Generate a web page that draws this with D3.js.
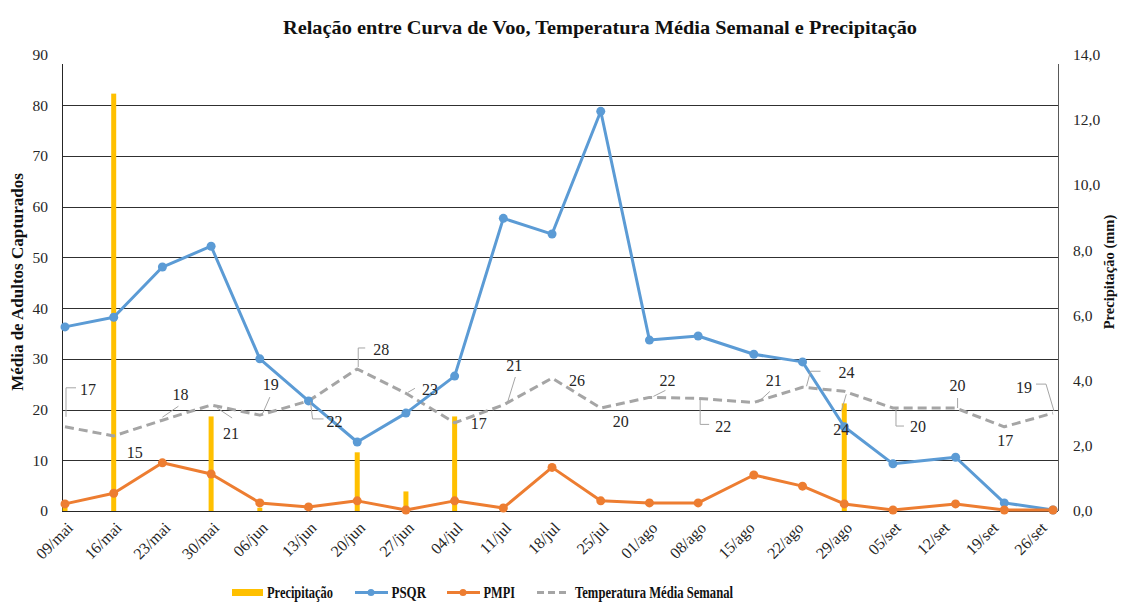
<!DOCTYPE html>
<html>
<head>
<meta charset="utf-8">
<script src="https://cdn.jsdelivr.net/npm/d3@7"></script>
<style>
  body { margin: 0; background: #fff; }
  text { font-family: "Liberation Serif", "Times New Roman", serif; }
</style>
</head>
<body>
<script>
// axis labels (weekly, date axis)
var weeks = ["09/mai","16/mai","23/mai","30/mai","06/jun","13/jun","20/jun","27/jun","04/jul","11/jul",
             "18/jul","25/jul","01/ago","08/ago","15/ago","22/ago","29/ago","05/set","12/set","19/set","26/set"];
// actual sampling dates (points sit on these)
var sampleDates = ["2019-05-09","2019-05-16","2019-05-23","2019-05-30","2019-06-06","2019-06-13","2019-06-20",
                   "2019-06-27","2019-07-04","2019-07-11","2019-07-18","2019-07-25","2019-08-01","2019-08-08",
                   "2019-08-16","2019-08-23","2019-08-29","2019-09-05","2019-09-14","2019-09-21","2019-09-28"];

// adults captured (left axis)
var psqr = [36.3, 38.2, 48.1, 52.2, 30.0, 21.7, 13.6, 19.3, 26.6, 57.7, 54.6, 78.8, 33.7, 34.5, 30.9, 29.4, 16.6, 9.3, 10.6, 1.6, 0.2];
var pmpi = [1.4, 3.5, 9.5, 7.3, 1.6, 0.8, 2.0, 0.2, 2.0, 0.6, 8.6, 2.0, 1.6, 1.6, 7.1, 4.9, 1.4, 0.2, 1.4, 0.2, 0.2];
// weekly mean temperature (left axis)
var temp = [16.6, 14.8, 17.9, 20.9, 18.9, 21.7, 28.0, 23.2, 17.4, 20.9, 26.2, 20.3, 22.4, 22.2, 21.4, 24.4, 23.6, 20.3, 20.3, 16.6, 19.3];
// precipitation (right axis, mm)
var precip = [0.2, 12.8, 0, 2.9, 0.1, 0, 1.8, 0.6, 2.9, 0, 0, 0, 0, 0, 0, 0, 3.3, 0, 0, 0, 0];

var leftTicks = [0, 10, 20, 30, 40, 50, 60, 70, 80, 90];
var rightTicks = [0, 2, 4, 6, 8, 10, 12, 14];

var W = 1127, H = 602;
var axLeft = 62, axRight = 1058, mTop = 54.5, mBottom = 511;

var parse = d3.timeParse("%Y-%m-%d");
var dates = sampleDates.map(parse);
var tickDates = weeks.map(function (d, i) { return d3.timeDay.offset(dates[0], 7 * i); });

var svg = d3.select("body").append("svg").attr("width", W).attr("height", H);

var x = d3.scaleTime().domain([dates[0], dates[dates.length - 1]]).range([65, 1053]);
var y = d3.scaleLinear().domain([0, 90]).range([mBottom, mTop]);
var y2 = d3.scaleLinear().domain([0, 14]).range([mBottom, mTop]);

// title
svg.append("text").attr("x", 600).attr("y", 34).attr("text-anchor", "middle")
  .attr("textLength", 634).attr("lengthAdjust", "spacingAndGlyphs")
  .style("font-size", "19px").style("font-weight", "bold").attr("fill", "#111")
  .text("Relação entre Curva de Voo, Temperatura Média Semanal e Precipitação");

// gridlines
svg.append("g").selectAll("line").data(leftTicks.filter(function (d) { return d > 0 && d < 90; }))
  .enter().append("line")
  .attr("x1", axLeft).attr("x2", axRight)
  .attr("y1", function (d) { return Math.round(y(d)) + 0.5; })
  .attr("y2", function (d) { return Math.round(y(d)) + 0.5; })
  .attr("stroke", "#303030").attr("stroke-width", 1);

// axes
var axL = svg.append("g").attr("transform", "translate(" + axLeft + ",0)")
  .call(d3.axisLeft(y).tickValues(leftTicks).tickSize(0).tickPadding(14).tickFormat(d3.format("d")));
var axR = svg.append("g").attr("transform", "translate(" + axRight + ",0)")
  .call(d3.axisRight(y2).tickValues(rightTicks).tickSize(0).tickPadding(15)
    .tickFormat(function (d) { return d.toFixed(1).replace(".", ","); }));
[axL, axR].forEach(function (a) {
  a.select(".domain").remove();
  a.selectAll("text").style("font-size", "15.5px").style("font-family", "Liberation Serif").attr("fill", "#262626");
});
svg.append("line").attr("x1", axLeft + 0.5).attr("x2", axLeft + 0.5).attr("y1", 64).attr("y2", mBottom).attr("stroke", "#262626");
svg.append("line").attr("x1", axRight + 0.5).attr("x2", axRight + 0.5).attr("y1", 64).attr("y2", mBottom).attr("stroke", "#595959");

// precipitation bars
svg.append("g").selectAll("rect").data(precip).enter().append("rect")
  .attr("x", function (d, i) { return x(dates[i]) - 2.5; })
  .attr("width", 5)
  .attr("y", function (d) { return y2(d); })
  .attr("height", function (d) { return mBottom - y2(d); })
  .attr("fill", "#FFC000");

// bottom axis line
svg.append("line").attr("x1", axLeft).attr("x2", axRight).attr("y1", mBottom + 0.5).attr("y2", mBottom + 0.5).attr("stroke", "#262626");

// x labels
svg.append("g").selectAll("text").data(weeks).enter().append("text")
  .attr("transform", function (d, i) { return "translate(" + (x(tickDates[i]) + 1) + "," + (mBottom + 10) + ") rotate(-45)"; })
  .attr("text-anchor", "end").attr("dy", "0.7em")
  .style("font-size", "16px").attr("fill", "#262626")
  .text(function (d) { return d; });

// lines
function drawLine(data, color, dashed, markers) {
  var line = d3.line().x(function (d, i) { return x(dates[i]); }).y(function (d) { return y(d); });
  svg.append("path").datum(data).attr("d", line).attr("fill", "none")
    .attr("stroke", color).attr("stroke-width", 3).attr("stroke-linejoin", "round")
    .attr("stroke-dasharray", dashed ? "9,5" : null);
  if (markers) {
    svg.append("g").selectAll("circle").data(data).enter().append("circle")
      .attr("cx", function (d, i) { return x(dates[i]); }).attr("cy", function (d) { return y(d); })
      .attr("r", 4.5).attr("fill", color);
  }
}
drawLine(temp, "#A5A5A5", true, false);
drawLine(psqr, "#5B9BD5", false, true);
drawLine(pmpi, "#ED7D31", false, true);

// temperature data labels: offset from point, and leader line points relative to point
var labelOff = [[23,-37],[21,16],[18,-26],[20,28],[11,-31],[26,20],[24,-20],[24,-4],[24,1],[11,-40],
                [25,2],[20,13],[18,-17],[25,28],[20,-22],[44,-15],[-3,38],[25,18],[2,-23],[1,14],[-29,-26]];
var leaders = [[[1,-10],[1,-39],[11,-39]], null, [[0,-3],[16,-14]], [[6,3],[21,13]], [[3,-2],[10,-18]],
               [[2,1],[4,18],[15,18]], [[1,-2],[1,-21],[8,-21]], [[2,-1],[9,-5]], null, [[4,-2],[12,-28]],
               null, null, [[4,-1],[16,-7]], [[2,0],[2,26],[11,26]], [[4,0],[16,-11]],
               [[4,-1],[8,-16],[18,-16]], [[2,3],[-3,20]], [[3,0],[3,18],[11,18]], [[2,0],[2,-10]], null,
               [[1,-2],[-7,-29],[-17,-29]]];
var lab = svg.append("g");
temp.forEach(function (d, i) {
  var px = x(dates[i]), py = y(d);
  var L = leaders[i];
  if (L) {
    lab.append("path").attr("d", d3.line()(L.map(function (p) { return [px + p[0], py + p[1]]; })))
      .attr("fill", "none").attr("stroke", "#A5A5A5").attr("stroke-width", 1);
  }
  lab.append("text").attr("x", px + labelOff[i][0]).attr("y", py + labelOff[i][1])
    .attr("text-anchor", "middle").attr("dy", "0.35em")
    .style("font-size", "16px").attr("fill", "#262626")
    .text(d3.format(".0f")(d));
});

// axis titles
svg.append("text").attr("transform", "translate(23,282) rotate(-90)").attr("text-anchor", "middle")
  .style("font-size", "17px").style("font-weight", "bold").attr("fill", "#111").text("Média de Adultos Capturados");
svg.append("text").attr("transform", "translate(1114,272) rotate(-90)").attr("text-anchor", "middle")
  .style("font-size", "14.5px").style("font-weight", "bold").attr("fill", "#111").text("Precipitação (mm)");

// legend
var lg = svg.append("g").style("font-size", "16.5px").style("font-weight", "bold").attr("fill", "#111");
function legText(tx, w, s) {
  lg.append("text").attr("x", tx).attr("y", 598).attr("textLength", w).attr("lengthAdjust", "spacingAndGlyphs").text(s);
}
lg.append("rect").attr("x", 232).attr("y", 589).attr("width", 31).attr("height", 7).attr("fill", "#FFC000");
legText(267, 66, "Precipitação");
lg.append("line").attr("x1", 355).attr("x2", 388).attr("y1", 592.5).attr("y2", 592.5).attr("stroke", "#5B9BD5").attr("stroke-width", 3);
lg.append("circle").attr("cx", 371).attr("cy", 592.5).attr("r", 3.5).attr("fill", "#5B9BD5");
legText(391.5, 34.5, "PSQR");
lg.append("line").attr("x1", 447).attr("x2", 480).attr("y1", 592.5).attr("y2", 592.5).attr("stroke", "#ED7D31").attr("stroke-width", 3);
lg.append("circle").attr("cx", 463).attr("cy", 592.5).attr("r", 3.5).attr("fill", "#ED7D31");
legText(483.5, 31.5, "PMPI");
lg.append("line").attr("x1", 537).attr("x2", 570).attr("y1", 592.5).attr("y2", 592.5).attr("stroke", "#A5A5A5").attr("stroke-width", 3).attr("stroke-dasharray", "7,4");
legText(575, 158, "Temperatura Média Semanal");
</script>
</body>
</html>
